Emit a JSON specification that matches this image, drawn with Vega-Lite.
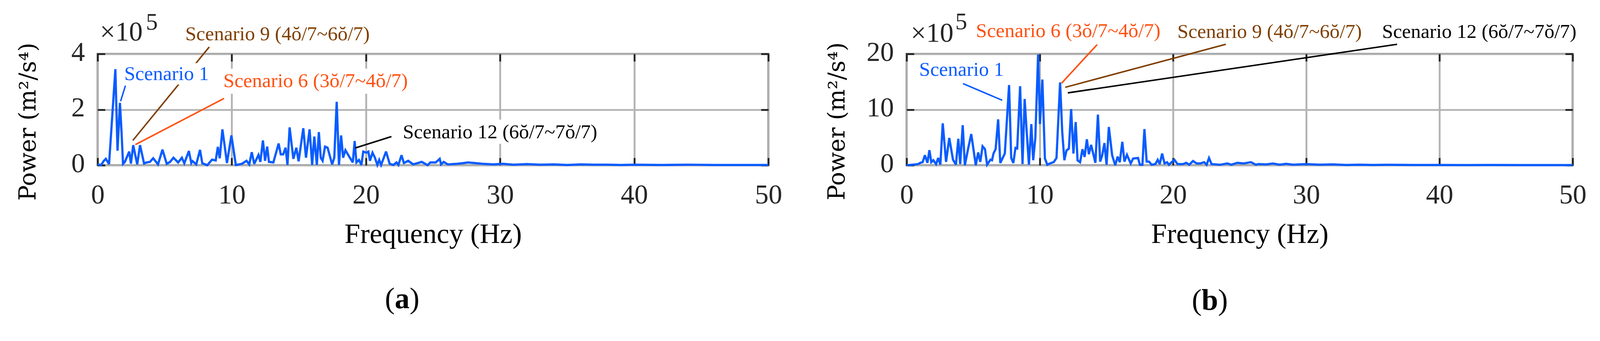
{
  "$schema": "https://vega.github.io/schema/vega-lite/v6.json",
  "background": "white",
  "padding": {"left": 40, "top": 23, "right": 5, "bottom": 5},
  "bounds": "flush",
  "spacing": 354,
  "config": {
    "view": {"stroke": "#262626", "strokeWidth": 4.7},
    "axis": {
      "domain": false,
      "tickColor": "#262626",
      "tickWidth": 4.7,
      "tickSize": -19,
      "gridColor": "#b3b3b3",
      "gridWidth": 4.7,
      "gridOpacity": 1,
      "labelFont": "Liberation Serif",
      "labelFontSize": 70,
      "labelColor": "#262626",
      "titleFont": "Liberation Serif",
      "titleFontWeight": "normal",
      "titleColor": "#000000"
    },
    "text": {"font": "Liberation Serif"}
  },
  "datasets": {
    "specA": [
      {"f": 0, "v": 0.04}, {"f": 0.25, "v": 0}, {"f": 0.45, "v": 0.15}, {"f": 0.61, "v": 0.23}, {"f": 0.85, "v": 0.04},
      {"f": 1.32, "v": 3.45}, {"f": 1.48, "v": 0.52}, {"f": 1.66, "v": 2.24}, {"f": 1.78, "v": 1.2}, {"f": 1.89, "v": 0.05},
      {"f": 2.03, "v": 0.12}, {"f": 2.35, "v": 0.49}, {"f": 2.48, "v": 0.06}, {"f": 2.65, "v": 0.72}, {"f": 2.95, "v": 0.03},
      {"f": 3.16, "v": 0.72}, {"f": 3.46, "v": 0.06}, {"f": 3.65, "v": 0.1}, {"f": 3.9, "v": 0.12}, {"f": 4.14, "v": 0.25},
      {"f": 4.5, "v": 0.03}, {"f": 4.83, "v": 0.56}, {"f": 5.15, "v": 0.05}, {"f": 5.4, "v": 0.12}, {"f": 5.65, "v": 0.27},
      {"f": 6.0, "v": 0.1}, {"f": 6.28, "v": 0.27}, {"f": 6.46, "v": 0.07}, {"f": 6.8, "v": 0.51}, {"f": 6.98, "v": 0.08},
      {"f": 7.07, "v": 0.15}, {"f": 7.35, "v": 0.03}, {"f": 7.63, "v": 0.55}, {"f": 7.8, "v": 0.07}, {"f": 8.17, "v": 0.0},
      {"f": 8.53, "v": 0.2}, {"f": 8.8, "v": 0.17}, {"f": 8.96, "v": 0.66}, {"f": 9.1, "v": 0.25}, {"f": 9.3, "v": 1.29},
      {"f": 9.64, "v": 0.08}, {"f": 9.97, "v": 1.07}, {"f": 10.3, "v": 0.01}, {"f": 10.75, "v": 0.05}, {"f": 11.1, "v": 0.16},
      {"f": 11.3, "v": 0.03}, {"f": 11.49, "v": 0.47}, {"f": 11.67, "v": 0.05}, {"f": 11.99, "v": 0.37}, {"f": 12.13, "v": 0.12},
      {"f": 12.32, "v": 0.89}, {"f": 12.48, "v": 0.16}, {"f": 12.64, "v": 0.67}, {"f": 12.77, "v": 0.12}, {"f": 13.1, "v": 0.1},
      {"f": 13.49, "v": 0.78}, {"f": 13.65, "v": 0.39}, {"f": 13.83, "v": 0.39}, {"f": 14.01, "v": 0.63}, {"f": 14.15, "v": 0.01},
      {"f": 14.31, "v": 1.36}, {"f": 14.59, "v": 0.23}, {"f": 14.81, "v": 0.63}, {"f": 14.98, "v": 0.14}, {"f": 15.33, "v": 1.33},
      {"f": 15.53, "v": 0.27}, {"f": 15.8, "v": 1.29}, {"f": 15.99, "v": 0.01}, {"f": 16.15, "v": 1.03}, {"f": 16.34, "v": 0.01},
      {"f": 16.49, "v": 1.19}, {"f": 16.63, "v": 0.27}, {"f": 16.77, "v": 0.16}, {"f": 16.95, "v": 0.67}, {"f": 17.14, "v": 0.63},
      {"f": 17.48, "v": 0.03}, {"f": 17.64, "v": 0.27}, {"f": 17.82, "v": 2.28}, {"f": 17.99, "v": 0.01}, {"f": 18.15, "v": 1.07},
      {"f": 18.3, "v": 0.27}, {"f": 18.47, "v": 0.54}, {"f": 18.74, "v": 0.32}, {"f": 19.02, "v": 0.1}, {"f": 19.16, "v": 0.87},
      {"f": 19.29, "v": 0.1}, {"f": 19.48, "v": 0.19}, {"f": 19.66, "v": 0.01}, {"f": 19.8, "v": 0.49}, {"f": 20.03, "v": 0.45},
      {"f": 20.18, "v": 0.49}, {"f": 20.3, "v": 0.16}, {"f": 20.49, "v": 0.45}, {"f": 20.67, "v": 0.27}, {"f": 20.85, "v": 0.01},
      {"f": 20.99, "v": 0.19}, {"f": 21.13, "v": 0.01}, {"f": 21.5, "v": 0.49}, {"f": 21.77, "v": 0.05}, {"f": 22.05, "v": 0.01},
      {"f": 22.28, "v": 0.1}, {"f": 22.42, "v": 0.01}, {"f": 22.65, "v": 0.36}, {"f": 22.83, "v": 0.08}, {"f": 23.15, "v": 0.16},
      {"f": 23.52, "v": 0.03}, {"f": 23.89, "v": 0.08}, {"f": 24.16, "v": 0.12}, {"f": 24.6, "v": 0.0}, {"f": 24.8, "v": 0.1},
      {"f": 25.2, "v": 0.1}, {"f": 25.5, "v": 0.23}, {"f": 25.6, "v": 0.03}, {"f": 25.8, "v": 0.12}, {"f": 26.1, "v": 0.03},
      {"f": 26.8, "v": 0.05}, {"f": 27.3, "v": 0.08}, {"f": 27.6, "v": 0.1}, {"f": 28.1, "v": 0.08}, {"f": 28.7, "v": 0.05},
      {"f": 29.5, "v": 0.03}, {"f": 30.2, "v": 0.05}, {"f": 31, "v": 0.02}, {"f": 32, "v": 0.04}, {"f": 33, "v": 0.02},
      {"f": 34, "v": 0.03}, {"f": 35, "v": 0.01}, {"f": 36, "v": 0.03}, {"f": 37, "v": 0.02}, {"f": 38, "v": 0.02},
      {"f": 39, "v": 0.01}, {"f": 40, "v": 0.02}, {"f": 42, "v": 0.01}, {"f": 44, "v": 0.02}, {"f": 46, "v": 0.01},
      {"f": 48, "v": 0.01}, {"f": 50, "v": 0.01}
    ],
    "specB": [
      {"f": 0, "v": 0}, {"f": 0.83, "v": 0.18}, {"f": 1.04, "v": 0.44}, {"f": 1.2, "v": 0.55}, {"f": 1.37, "v": 1.8},
      {"f": 1.56, "v": 0.44}, {"f": 1.71, "v": 2.7}, {"f": 1.85, "v": 0.55}, {"f": 2.0, "v": 0.9}, {"f": 2.21, "v": 0.2},
      {"f": 2.37, "v": 1.3}, {"f": 2.53, "v": 0.1}, {"f": 2.71, "v": 7.53}, {"f": 2.96, "v": 0.6}, {"f": 3.2, "v": 4.9},
      {"f": 3.48, "v": 1.0}, {"f": 3.7, "v": 0.1}, {"f": 3.88, "v": 4.76}, {"f": 4.02, "v": 0.2}, {"f": 4.21, "v": 7.2},
      {"f": 4.37, "v": 0}, {"f": 4.61, "v": 2.9}, {"f": 4.85, "v": 5.6}, {"f": 5.19, "v": 0}, {"f": 5.37, "v": 2.3},
      {"f": 5.53, "v": 0.6}, {"f": 5.7, "v": 3.4}, {"f": 5.88, "v": 2.9}, {"f": 6.04, "v": 0.1}, {"f": 6.3, "v": 1.0},
      {"f": 6.41, "v": 0.9}, {"f": 6.52, "v": 2.1}, {"f": 6.68, "v": 2.9}, {"f": 6.87, "v": 8.24}, {"f": 7.03, "v": 0.4},
      {"f": 7.37, "v": 2.1}, {"f": 7.69, "v": 14.4}, {"f": 7.85, "v": 1.3}, {"f": 8.01, "v": 0.4}, {"f": 8.17, "v": 3.1},
      {"f": 8.3, "v": 3.0}, {"f": 8.52, "v": 14.2}, {"f": 8.7, "v": 0.2}, {"f": 8.86, "v": 11.9}, {"f": 9.0, "v": 6.5},
      {"f": 9.18, "v": 0.1}, {"f": 9.36, "v": 7.4}, {"f": 9.5, "v": 0.9}, {"f": 9.66, "v": 4.9}, {"f": 9.87, "v": 19.9},
      {"f": 10.01, "v": 7.4}, {"f": 10.19, "v": 15.4}, {"f": 10.38, "v": 1.2}, {"f": 10.56, "v": 0.1}, {"f": 10.83, "v": 0.4},
      {"f": 11.04, "v": 0.55}, {"f": 11.25, "v": 1.3}, {"f": 11.52, "v": 14.87}, {"f": 11.68, "v": 6.0}, {"f": 11.84, "v": 0.9},
      {"f": 12.0, "v": 2.65}, {"f": 12.18, "v": 2.98}, {"f": 12.35, "v": 10.1}, {"f": 12.52, "v": 2.1}, {"f": 12.69, "v": 7.76},
      {"f": 12.83, "v": 0.87}, {"f": 13.02, "v": 0.54}, {"f": 13.2, "v": 2.87}, {"f": 13.36, "v": 1.5}, {"f": 13.53, "v": 4.65},
      {"f": 13.68, "v": 1.98}, {"f": 13.85, "v": 3.65}, {"f": 14.17, "v": 0.43}, {"f": 14.36, "v": 9.1}, {"f": 14.53, "v": 0.65},
      {"f": 14.68, "v": 1.76}, {"f": 14.85, "v": 3.98}, {"f": 15.01, "v": 0.09}, {"f": 15.18, "v": 6.87}, {"f": 15.43, "v": 1.76},
      {"f": 15.66, "v": 0}, {"f": 15.84, "v": 1.54}, {"f": 16.0, "v": 0.54}, {"f": 16.19, "v": 4.2}, {"f": 16.35, "v": 0.65},
      {"f": 16.54, "v": 1.87}, {"f": 16.82, "v": 0.32}, {"f": 17.0, "v": 1.2}, {"f": 17.37, "v": 1.3}, {"f": 17.51, "v": 0.09},
      {"f": 17.7, "v": 0.09}, {"f": 17.85, "v": 6.5}, {"f": 18.02, "v": 0.65}, {"f": 18.2, "v": 0.65}, {"f": 18.39, "v": 0.09},
      {"f": 18.67, "v": 0.2}, {"f": 18.85, "v": 0.98}, {"f": 19.0, "v": 0.2}, {"f": 19.18, "v": 2.1}, {"f": 19.36, "v": 0.32},
      {"f": 19.55, "v": 0.54}, {"f": 19.69, "v": 0.09}, {"f": 20.1, "v": 0.98}, {"f": 20.34, "v": 0.2}, {"f": 20.75, "v": 0.2},
      {"f": 20.99, "v": 0.43}, {"f": 21.22, "v": 0.09}, {"f": 21.5, "v": 0.76}, {"f": 21.77, "v": 0.32}, {"f": 22.05, "v": 0.32},
      {"f": 22.33, "v": 0.54}, {"f": 22.52, "v": 0.09}, {"f": 22.7, "v": 1.3}, {"f": 22.89, "v": 0.2}, {"f": 23.53, "v": 0.09},
      {"f": 24.09, "v": 0.32}, {"f": 24.37, "v": 0.09}, {"f": 24.83, "v": 0.43}, {"f": 25.3, "v": 0.32}, {"f": 25.85, "v": 0.54},
      {"f": 26.22, "v": 0.09}, {"f": 26.4, "v": 0.2}, {"f": 27, "v": 0.15}, {"f": 27.5, "v": 0.3}, {"f": 28, "v": 0.1},
      {"f": 28.5, "v": 0.25}, {"f": 29, "v": 0.1}, {"f": 30, "v": 0.2}, {"f": 31, "v": 0.1}, {"f": 32, "v": 0.15},
      {"f": 33, "v": 0.05}, {"f": 34, "v": 0.1}, {"f": 35, "v": 0.05}, {"f": 36, "v": 0.08}, {"f": 38, "v": 0.05},
      {"f": 40, "v": 0.05}, {"f": 42, "v": 0.03}, {"f": 44, "v": 0.04}, {"f": 46, "v": 0.03}, {"f": 48, "v": 0.03},
      {"f": 50, "v": 0.02}
    ],
    "leadersA": [
      {"s": "Scenario 1", "f1": 2.07, "v1": 2.86, "f2": 1.71, "v2": 2.3},
      {"s": "Scenario 9", "f1": 8.32, "v1": 4.25, "f2": 2.62, "v2": 0.89},
      {"s": "Scenario 6", "f1": 9.42, "v1": 2.4, "f2": 2.81, "v2": 0.74},
      {"s": "Scenario 12", "f1": 21.9, "v1": 1.03, "f2": 19.2, "v2": 0.62}
    ],
    "boxesA": [
      {"f1": 1.85, "f2": 8.6, "v1": 2.9, "v2": 3.67},
      {"f1": 9.23, "f2": 24.16, "v1": 2.57, "v2": 3.47},
      {"f1": 22.5, "f2": 38.35, "v1": 0.77, "v2": 1.64}
    ],
    "labelsA": [
      {"s": "Scenario 1", "t": "Scenario 1", "f": 1.98, "v": 3.06},
      {"s": "Scenario 9", "t": "Scenario 9 (4ŏ/7~6ŏ/7)", "f": 6.53, "v": 4.49},
      {"s": "Scenario 6", "t": "Scenario 6 (3ŏ/7~4ŏ/7)", "f": 9.37, "v": 2.81},
      {"s": "Scenario 12", "t": "Scenario 12 (6ŏ/7~7ŏ/7)", "f": 22.75, "v": 0.97}
    ],
    "leadersB": [
      {"s": "Scenario 1", "f1": 4.23, "v1": 14.67, "f2": 7.18, "v2": 11.67},
      {"s": "Scenario 6", "f1": 14.3, "v1": 21.67, "f2": 11.63, "v2": 14.73},
      {"s": "Scenario 9", "f1": 23.96, "v1": 21.73, "f2": 11.91, "v2": 14.0},
      {"s": "Scenario 12", "f1": 36.82, "v1": 21.73, "f2": 12.1, "v2": 13.0}
    ],
    "labelsB": [
      {"s": "Scenario 1", "t": "Scenario 1", "f": 0.94, "v": 16.07},
      {"s": "Scenario 6", "t": "Scenario 6 (3ŏ/7~4ŏ/7)", "f": 5.2, "v": 23.0},
      {"s": "Scenario 9", "t": "Scenario 9 (4ŏ/7~6ŏ/7)", "f": 20.32, "v": 22.87},
      {"s": "Scenario 12", "t": "Scenario 12 (6ŏ/7~7ŏ/7)", "f": 35.69, "v": 22.87}
    ]
  },
  "hconcat": [
    {
      "width": 1717,
      "height": 285,
      "resolve": {"axis": {"x": "independent", "y": "independent"}},
      "layer": [
        {
          "data": {"name": "specA"},
          "mark": {"type": "line", "color": "#0a5cff", "strokeWidth": 5.7, "strokeJoin": "miter", "strokeMiterLimit": 3},
          "encoding": {
            "x": {"field": "f", "type": "quantitative", "scale": {"domain": [0, 50], "nice": false},
              "axis": {"values": [0, 10, 20, 30, 40, 50], "grid": true, "labelPadding": 116, "labelBaseline": "alphabetic", "labelFlush": false,
                "title": "Frequency (Hz)", "titleFontSize": 72, "titleBaseline": "alphabetic", "titleY": 198}},
            "y": {"field": "v", "type": "quantitative", "scale": {"domain": [0, 4], "nice": false},
              "axis": {"values": [0, 2, 4], "grid": true, "labelPadding": 52, "labelOffset": -4, "labelFlush": false,
                "title": "Power (m²/s⁴)", "titleFont": "DejaVu Serif", "titleFontSize": 59, "titleAngle": -90,
                "titleAlign": "center", "titleBaseline": "alphabetic", "titleX": -160, "titleY": 173}}
          }
        },
        {
          "data": {"name": "leadersA"},
          "mark": {"type": "rule", "strokeWidth": 3.8},
          "encoding": {
            "x": {"field": "f1", "type": "quantitative",
              "axis": {"orient": "top", "values": [0, 10, 20, 30, 40, 50], "labels": false, "grid": false, "title": null}},
            "y": {"field": "v1", "type": "quantitative",
              "axis": {"orient": "right", "values": [0, 2, 4], "labels": false, "grid": false, "title": null}},
            "x2": {"field": "f2"},
            "y2": {"field": "v2"},
            "color": {"field": "s", "type": "nominal", "legend": null,
              "scale": {"domain": ["Scenario 1", "Scenario 6", "Scenario 9", "Scenario 12"], "range": ["#0a5cff", "#ff5010", "#7f3f00", "#000000"]}}
          }
        },
        {
          "data": {"name": "boxesA"},
          "mark": {"type": "rect", "fill": "white"},
          "encoding": {
            "x": {"field": "f1", "type": "quantitative", "axis": null},
            "x2": {"field": "f2"},
            "y": {"field": "v1", "type": "quantitative", "axis": null},
            "y2": {"field": "v2"}
          }
        },
        {
          "data": {"name": "labelsA"},
          "mark": {"type": "text", "align": "left", "baseline": "alphabetic", "fontSize": 51},
          "encoding": {
            "x": {"field": "f", "type": "quantitative", "axis": null},
            "y": {"field": "v", "type": "quantitative", "axis": null},
            "text": {"field": "t"},
            "color": {"field": "s", "type": "nominal", "legend": null,
              "scale": {"domain": ["Scenario 1", "Scenario 6", "Scenario 9", "Scenario 12"], "range": ["#0a5cff", "#ff5010", "#7f3f00", "#000000"]}}
          }
        },
        {
          "data": {"values": [{"f": 0.17, "v": 4.48, "t": "×10"}]},
          "mark": {"type": "text", "align": "left", "baseline": "alphabetic", "fontSize": 70, "color": "#262626"},
          "encoding": {
            "x": {"field": "f", "type": "quantitative", "axis": null},
            "y": {"field": "v", "type": "quantitative", "axis": null},
            "text": {"field": "t"}
          }
        },
        {
          "data": {"values": [{"f": 3.6, "v": 4.87, "t": "5"}]},
          "mark": {"type": "text", "align": "left", "baseline": "alphabetic", "fontSize": 61, "color": "#262626"},
          "encoding": {
            "x": {"field": "f", "type": "quantitative", "axis": null},
            "y": {"field": "v", "type": "quantitative", "axis": null},
            "text": {"field": "t"}
          }
        },
        {
          "data": {"values": [{"f": 22.7, "v": -5.14, "t": "a"}]},
          "mark": {"type": "text", "align": "center", "baseline": "alphabetic", "fontSize": 76, "fontWeight": "bold", "color": "#000000"},
          "encoding": {
            "x": {"field": "f", "type": "quantitative", "axis": null},
            "y": {"field": "v", "type": "quantitative", "axis": null},
            "text": {"field": "t"}
          }
        },
        {
          "data": {"values": [{"f": 22.15, "v": -5.14, "t": "("}]},
          "mark": {"type": "text", "align": "right", "baseline": "alphabetic", "fontSize": 76, "color": "#000000"},
          "encoding": {
            "x": {"field": "f", "type": "quantitative", "axis": null},
            "y": {"field": "v", "type": "quantitative", "axis": null},
            "text": {"field": "t"}
          }
        },
        {
          "data": {"values": [{"f": 23.25, "v": -5.14, "t": ")"}]},
          "mark": {"type": "text", "align": "left", "baseline": "alphabetic", "fontSize": 76, "color": "#000000"},
          "encoding": {
            "x": {"field": "f", "type": "quantitative", "axis": null},
            "y": {"field": "v", "type": "quantitative", "axis": null},
            "text": {"field": "t"}
          }
        }
      ]
    },
    {
      "width": 1705,
      "height": 285,
      "resolve": {"axis": {"x": "independent", "y": "independent"}},
      "layer": [
        {
          "data": {"name": "specB"},
          "mark": {"type": "line", "color": "#0a5cff", "strokeWidth": 5.7, "strokeJoin": "miter", "strokeMiterLimit": 3},
          "encoding": {
            "x": {"field": "f", "type": "quantitative", "scale": {"domain": [0, 50], "nice": false},
              "axis": {"values": [0, 10, 20, 30, 40, 50], "grid": true, "labelPadding": 116, "labelBaseline": "alphabetic", "labelFlush": false,
                "title": "Frequency (Hz)", "titleFontSize": 72, "titleBaseline": "alphabetic", "titleY": 198}},
            "y": {"field": "v", "type": "quantitative", "scale": {"domain": [0, 20], "nice": false},
              "axis": {"values": [0, 10, 20], "grid": true, "labelPadding": 52, "labelOffset": -4, "labelFlush": false,
                "title": "Power (m²/s⁴)", "titleFont": "DejaVu Serif", "titleFontSize": 59, "titleAngle": -90,
                "titleAlign": "center", "titleBaseline": "alphabetic", "titleX": -160, "titleY": 172}}
          }
        },
        {
          "data": {"name": "leadersB"},
          "mark": {"type": "rule", "strokeWidth": 3.8},
          "encoding": {
            "x": {"field": "f1", "type": "quantitative",
              "axis": {"orient": "top", "values": [0, 10, 20, 30, 40, 50], "labels": false, "grid": false, "title": null}},
            "y": {"field": "v1", "type": "quantitative",
              "axis": {"orient": "right", "values": [0, 10, 20], "labels": false, "grid": false, "title": null}},
            "x2": {"field": "f2"},
            "y2": {"field": "v2"},
            "color": {"field": "s", "type": "nominal", "legend": null,
              "scale": {"domain": ["Scenario 1", "Scenario 6", "Scenario 9", "Scenario 12"], "range": ["#0a5cff", "#ff5010", "#7f3f00", "#000000"]}}
          }
        },
        {
          "data": {"name": "labelsB"},
          "mark": {"type": "text", "align": "left", "baseline": "alphabetic", "fontSize": 51},
          "encoding": {
            "x": {"field": "f", "type": "quantitative", "axis": null},
            "y": {"field": "v", "type": "quantitative", "axis": null},
            "text": {"field": "t"},
            "color": {"field": "s", "type": "nominal", "legend": null,
              "scale": {"domain": ["Scenario 1", "Scenario 6", "Scenario 9", "Scenario 12"], "range": ["#0a5cff", "#ff5010", "#7f3f00", "#000000"]}}
          }
        },
        {
          "data": {"values": [{"f": 0.31, "v": 22.2, "t": "×10"}]},
          "mark": {"type": "text", "align": "left", "baseline": "alphabetic", "fontSize": 70, "color": "#262626"},
          "encoding": {
            "x": {"field": "f", "type": "quantitative", "axis": null},
            "y": {"field": "v", "type": "quantitative", "axis": null},
            "text": {"field": "t"}
          }
        },
        {
          "data": {"values": [{"f": 3.65, "v": 24.4, "t": "5"}]},
          "mark": {"type": "text", "align": "left", "baseline": "alphabetic", "fontSize": 61, "color": "#262626"},
          "encoding": {
            "x": {"field": "f", "type": "quantitative", "axis": null},
            "y": {"field": "v", "type": "quantitative", "axis": null},
            "text": {"field": "t"}
          }
        },
        {
          "data": {"values": [{"f": 22.76, "v": -25.93, "t": "b"}]},
          "mark": {"type": "text", "align": "center", "baseline": "alphabetic", "fontSize": 76, "fontWeight": "bold", "color": "#000000"},
          "encoding": {
            "x": {"field": "f", "type": "quantitative", "axis": null},
            "y": {"field": "v", "type": "quantitative", "axis": null},
            "text": {"field": "t"}
          }
        },
        {
          "data": {"values": [{"f": 22.15, "v": -25.93, "t": "("}]},
          "mark": {"type": "text", "align": "right", "baseline": "alphabetic", "fontSize": 76, "color": "#000000"},
          "encoding": {
            "x": {"field": "f", "type": "quantitative", "axis": null},
            "y": {"field": "v", "type": "quantitative", "axis": null},
            "text": {"field": "t"}
          }
        },
        {
          "data": {"values": [{"f": 23.37, "v": -25.93, "t": ")"}]},
          "mark": {"type": "text", "align": "left", "baseline": "alphabetic", "fontSize": 76, "color": "#000000"},
          "encoding": {
            "x": {"field": "f", "type": "quantitative", "axis": null},
            "y": {"field": "v", "type": "quantitative", "axis": null},
            "text": {"field": "t"}
          }
        }
      ]
    }
  ]
}
